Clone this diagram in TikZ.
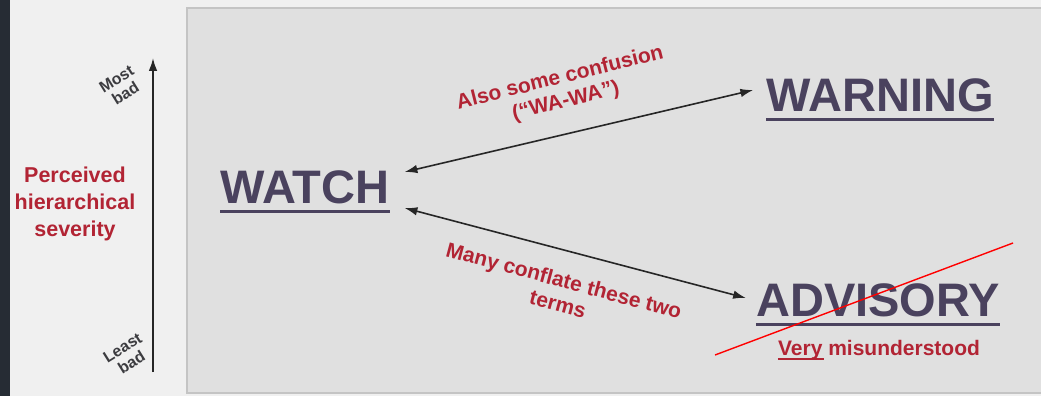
\documentclass[tikz,border=0pt]{standalone}
\usepackage{fontspec}
\setmainfont{Liberation Sans}
\usepackage{tikz}
\usetikzlibrary{positioning,arrows.meta}
\definecolor{wordcol}{RGB}{74,66,94}
\definecolor{redtxt}{RGB}{178,36,52}
\definecolor{axisgray}{RGB}{60,60,64}
\definecolor{panelfill}{RGB}{224,224,224}
\definecolor{panelline}{RGB}{196,196,196}
\definecolor{pagebg}{RGB}{240,240,240}
\definecolor{stripcol}{RGB}{38,44,52}

\begin{document}
\begin{tikzpicture}[
  x=1pt, y=-1pt,
  bigword/.style={font=\fontsize{47}{50}\selectfont\bfseries, text=wordcol, inner sep=0pt},
  uline/.style={wordcol, line width=3pt},
  note/.style={font=\fontsize{21}{24}\selectfont\bfseries, text=redtxt, align=center, inner sep=0pt},
  axislbl/.style={font=\fontsize{16}{17}\selectfont\bfseries, text=axisgray, align=center, inner sep=0pt, rotate=32},
  arr/.style={{Latex[length=4.5mm,width=3mm]}-{Latex[length=4.5mm,width=3mm]}, line width=1.6pt, black!85},
  axisarr/.style={-{Latex[length=4.5mm,width=3mm]}, line width=1.8pt, black!85}
]
\useasboundingbox (0,0) rectangle (1041,396);
\fill[pagebg] (0,0) rectangle (1041,396);
\fill[stripcol] (0,0) rectangle (10,396);
\draw[panelline, fill=panelfill, line width=1.2pt] (187,8) rectangle (1050,393);

% severity axis
\coordinate (axbot) at (153,372);
\coordinate (axtop) at (153,58);
\draw[axisarr] (axbot) -- (axtop);
\node[axislbl] (most) at (121,86) {Most\\bad};
\node[axislbl] (least) at (127,355) {Least\\bad};
\node[font=\fontsize{21.5}{27}\selectfont\bfseries, text=redtxt, align=center, inner sep=0pt] (sev) at (75,204) {Perceived\\hierarchical\\severity};

% terms
\node[bigword] (watch) at (305,187) {WATCH};
\node[bigword] (warning) at (880,95) {WARNING};
\node[bigword] (advisory) at (878,300) {ADVISORY};
\foreach \w in {watch,warning,advisory}
  \draw[uline] ([yshift=-8pt]\w.base west) -- ([yshift=-8pt]\w.base east);
\node[font=\fontsize{21}{24}\selectfont\bfseries, text=redtxt, anchor=base, inner sep=0pt] (misu) at (879,355) {Very misunderstood};
\draw[redtxt, line width=1.6pt] ([yshift=-4pt]misu.base west) -- ++(46,0);

% confusions
\draw[arr] ([xshift=15pt,yshift=15pt]watch.east) -- ([xshift=-13pt,yshift=5pt]warning.west);
\draw[arr] ([xshift=15pt,yshift=-21pt]watch.east) -- ([xshift=-10pt,yshift=2pt]advisory.west);
\node[note, rotate=14] (conf1) at (563,90) {Also some confusion\\(``WA-WA'')};
\node[note, rotate=-15] (conf2) at (561,292) {Many conflate these two\\terms};

% strike
\coordinate (strikeA) at (715,355);
\coordinate (strikeB) at (1013,243);
\draw[red, line width=1.4pt] (strikeA) -- (strikeB);
\end{tikzpicture}
\end{document}
